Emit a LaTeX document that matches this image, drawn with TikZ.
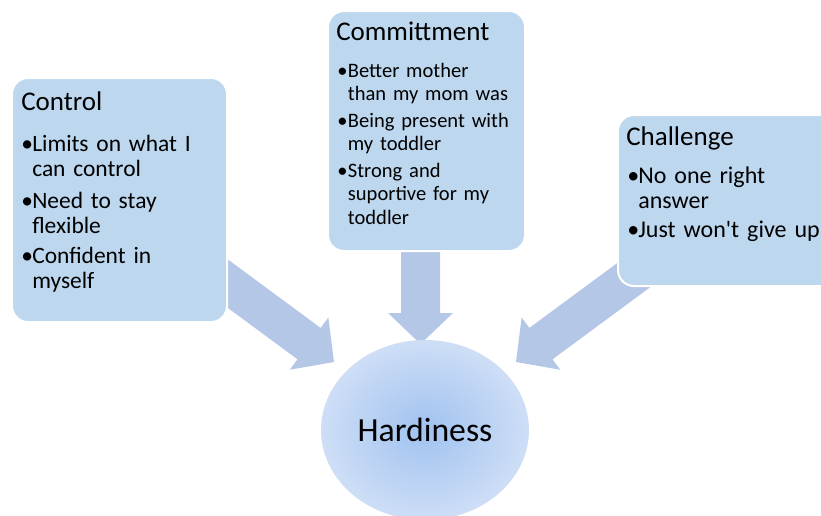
\documentclass[tikz,border=0pt]{standalone}
\usepackage{fontspec}
\newfontfamily\carl{Carlito}
\usetikzlibrary{calc,shapes.geometric}
\definecolor{boxblue}{HTML}{BDD7EE}
\definecolor{arrowblue}{HTML}{B4C7E7}
\definecolor{ellin}{RGB}{160,194,240}
\definecolor{ellout}{RGB}{206,222,246}
\newcommand\blockarrow[2]{%
  \path ($(#2)!23.25pt!(#1)$) coordinate (ba);
  \fill[arrowblue] ($(#1)!14.625pt!90:(#2)$) -- ($(ba)!14.625pt!90:(#2)$)
    -- ($(ba)!24.375pt!90:(#2)$) -- (#2) -- ($(ba)!24.375pt!-90:(#2)$)
    -- ($(ba)!14.625pt!-90:(#2)$) -- ($(#1)!14.625pt!-90:(#2)$) -- cycle;}
\newcommand\bl[1]{\makebox[#1][l]{•}}
\begin{document}
\begin{tikzpicture}[x=0.75pt,y=-0.75pt,
  box/.style={draw=white, line width=1.5pt, fill=boxblue, rounded corners=12pt,
    inner sep=0pt, anchor=north west},
  ttl/.style={font=\carl\fontsize{20.25pt}{24pt}\selectfont, inner sep=0pt, anchor=base west},
  itm/.style={font=\carl\fontsize{18pt}{18.75pt}\selectfont, inner sep=0pt, anchor=base west,
    text width=200pt, align=left},
  itmc/.style={font=\carl\fontsize{17.6pt}{18.75pt}\selectfont, inner sep=0pt, anchor=base west,
    text width=200pt, align=left},
  itms/.style={font=\carl\fontsize{15.4pt}{17.8pt}\selectfont, inner sep=0pt, anchor=base west,
    text width=200pt, align=left}]
\useasboundingbox (0,0) rectangle (821,515);
% arrows (under the boxes)
\coordinate (ls) at (189,255); \coordinate (lt) at (334,362);
\coordinate (ms) at (420.5,240); \coordinate (mt) at (420.5,344);
\coordinate (rs) at (661,255); \coordinate (rt) at (516,362);
\blockarrow{ls}{lt}
\blockarrow{ms}{mt}
\blockarrow{rs}{rt}
% boxes
\node[box, minimum width=161.25pt, minimum height=183pt] (control) at (11,77) {};
\node[box, minimum width=147.75pt, minimum height=180pt] (commit) at (327,10) {};
\node[box, minimum width=172.5pt, minimum height=128.25pt] (chall) at (617,114) {};
% Control
\node[ttl] (t1) at (21,110) {Control};
\node[itmc] (c1) at (21,151) {\bl{8.25pt}Limits on what I\\\hspace*{8.25pt}can control};
\node[itmc] (c2) at (21,208) {\bl{8.25pt}Need to stay\\\hspace*{8.25pt}flexible};
\node[itmc] (c3) at (21,263) {\bl{8.25pt}Confident in\\\hspace*{8.25pt}myself};
% Committment
\node[ttl] (t2) at (336,40) {Committment};
\node[itms] (m1) at (337,77) {\bl{8pt}Better mother\\\hspace*{8pt}than my mom was};
\node[itms] (m2) at (337,127) {\bl{8pt}Being present with\\\hspace*{8pt}my toddler};
\node[itms] (m3) at (337,177) {\bl{8pt}Strong and\\\hspace*{8pt}suportive for my\\\hspace*{8pt}toddler};
% Challenge
\node[ttl] (t3) at (626,145) {Challenge};
\node[itm] (h1) at (627,183) {\bl{8.25pt}No one right\\\hspace*{8.25pt}answer};
\node[itm] (h2) at (627,237) {\bl{8.25pt}Just won't give up};
% Hardiness
\node[ellipse, minimum width=156pt, minimum height=135pt, inner color=ellin,
  outer color=ellout, font=\carl\fontsize{25.3pt}{30pt}\selectfont] (hard) at (425,430) {Hardiness};
\end{tikzpicture}
\end{document}
